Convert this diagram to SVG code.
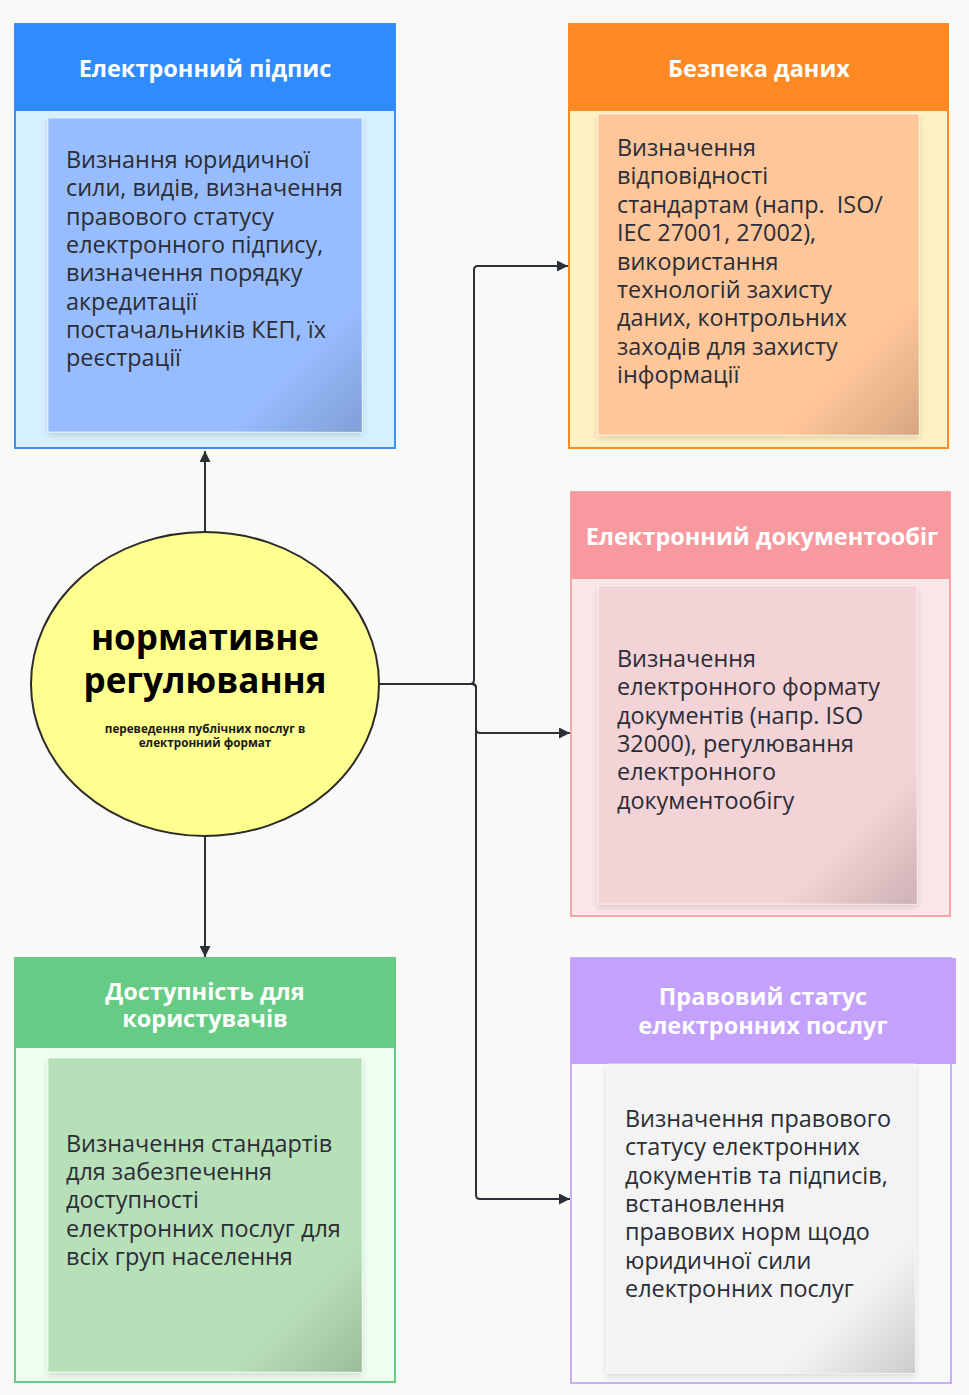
<svg xmlns="http://www.w3.org/2000/svg" width="969" height="1395" viewBox="0 0 969 1395">
<defs>
<style>
.title{font-family:"Open Sans","Noto Sans","Liberation Sans",sans-serif;font-weight:700;font-size:23.5px;fill:#ffffff;text-anchor:middle}
.body{font-family:"Open Sans","Noto Sans","Liberation Sans",sans-serif;font-size:23.4px;fill:#2b2d36}
.conn{fill:none;stroke:#2b2f36;stroke-width:2}
.sticky-shade{fill:url(#corner)}
.ctitle{font-family:"Open Sans","Noto Sans","Liberation Sans",sans-serif;font-weight:700;font-size:35px;fill:#000;text-anchor:middle}
.csub{font-family:"Open Sans","Noto Sans","Liberation Sans",sans-serif;font-weight:700;font-size:11.7px;fill:#1a1a1a;text-anchor:middle}
</style>
<linearGradient id="corner" x1="0" y1="0" x2="1" y2="1">
<stop offset="0" stop-color="#000" stop-opacity="0"/>
<stop offset="0.78" stop-color="#000" stop-opacity="0"/>
<stop offset="1" stop-color="#000" stop-opacity="0.16"/>
</linearGradient>
<filter id="shadow" x="-10%" y="-10%" width="120%" height="120%">
<feDropShadow dx="0" dy="3" stdDeviation="3" flood-color="#000" flood-opacity="0.14"/>
</filter>
<marker id="arrow" viewBox="0 0 10 10" refX="10" refY="5" markerWidth="11" markerHeight="11" markerUnits="userSpaceOnUse" orient="auto">
<path d="M0,0 L10,5 L0,10 Z" fill="#2b2f36"/>
</marker>
</defs>
<rect x="0" y="0" width="969" height="1395" fill="#f9f9f8"/>

<g id="connectors">
<path class="conn" d="M205,532 V451" marker-end="url(#arrow)"/>
<path class="conn" d="M205,836 V957" marker-end="url(#arrow)"/>
<path class="conn" d="M379,684 H470 Q474,684 474,680 V270 Q474,266 478,266 H568" marker-end="url(#arrow)"/>
<path class="conn" d="M379,684 H472 Q476,684 476,688 V729 Q476,733 480,733 H570" marker-end="url(#arrow)"/>
<path class="conn" d="M379,684 H472 Q476,684 476,688 V1195 Q476,1199 480,1199 H570" marker-end="url(#arrow)"/>
</g>

<g id="node-signature">
<rect x="15" y="24" width="380" height="424" fill="#d6f0ff" stroke="#3d8ef5" stroke-width="2"/>
<rect x="15" y="24" width="380" height="87" fill="#2f8cff"/>
<text class="title" x="205" y="77">Електронний підпис</text>
<g filter="url(#shadow)">
<rect x="48" y="118" width="314" height="314" fill="#98bdff" stroke="#ffffff" stroke-opacity="0.6"/>
<rect class="sticky-shade" x="48" y="118" width="314" height="314"/>
</g>
<text class="body" x="66" y="168"><tspan x="66">Визнання юридичної</tspan><tspan x="66" dy="28.3">сили, видів, визначення</tspan><tspan x="66" dy="28.3">правового статусу</tspan><tspan x="66" dy="28.3">електронного підпису,</tspan><tspan x="66" dy="28.3">визначення порядку</tspan><tspan x="66" dy="28.3">акредитації</tspan><tspan x="66" dy="28.3">постачальників КЕП, їх</tspan><tspan x="66" dy="28.3">реєстрації</tspan></text>
</g>

<g id="node-security">
<rect x="569" y="24" width="379" height="424" fill="#fff1c4" stroke="#ff8a24" stroke-width="2"/>
<rect x="569" y="24" width="379" height="87" fill="#ff8a24"/>
<text class="title" x="759" y="77">Безпека даних</text>
<g filter="url(#shadow)">
<rect x="598" y="114" width="321" height="321" fill="#ffc699" stroke="#ffffff" stroke-opacity="0.6"/>
<rect class="sticky-shade" x="598" y="114" width="321" height="321"/>
</g>
<text class="body" x="617" y="156"><tspan x="617">Визначення</tspan><tspan x="617" dy="28.4">відповідності</tspan><tspan x="617" dy="28.4">стандартам (напр.&#160; ISO/</tspan><tspan x="617" dy="28.4">IEC 27001, 27002),</tspan><tspan x="617" dy="28.4">використання</tspan><tspan x="617" dy="28.4">технологій захисту</tspan><tspan x="617" dy="28.4">даних, контрольних</tspan><tspan x="617" dy="28.4">заходів для захисту</tspan><tspan x="617" dy="28.4">інформації</tspan></text>
</g>

<g id="node-center">
<ellipse cx="205" cy="684" rx="174" ry="152" fill="#ffff8f" stroke="#2b2b2b" stroke-width="2"/>
<text class="ctitle" x="205" y="650">нормативне</text>
<text class="ctitle" x="205" y="693">регулювання</text>
<text class="csub" x="205" y="733">переведення публічних послуг в</text>
<text class="csub" x="205" y="747">електронний формат</text>
</g>

<g id="node-documents">
<rect x="571" y="492" width="379" height="424" fill="#fbe6e8" stroke="#f8a5a8" stroke-width="2"/>
<rect x="571" y="492" width="379" height="87" fill="#f8999f"/>
<text class="title" x="762" y="545">Електронний документообіг</text>
<g filter="url(#shadow)">
<rect x="598" y="586" width="319" height="318" fill="#f4d3d6" stroke="#ffffff" stroke-opacity="0.6"/>
<rect class="sticky-shade" x="598" y="586" width="319" height="318"/>
</g>
<text class="body" x="617" y="667"><tspan x="617">Визначення</tspan><tspan x="617" dy="28.3">електронного формату</tspan><tspan x="617" dy="28.3">документів (напр. ISO</tspan><tspan x="617" dy="28.3">32000), регулювання</tspan><tspan x="617" dy="28.3">електронного</tspan><tspan x="617" dy="28.3">документообігу</tspan></text>
</g>

<g id="node-accessibility">
<rect x="15" y="958" width="380" height="424" fill="#edfff0" stroke="#66cc85" stroke-width="2"/>
<rect x="15" y="958" width="380" height="90" fill="#66cc85"/>
<text class="title" x="205" y="1000">Доступність для</text>
<text class="title" x="205" y="1027">користувачів</text>
<g filter="url(#shadow)">
<rect x="48" y="1058" width="314" height="314" fill="#b8e0b8" stroke="#ffffff" stroke-opacity="0.6"/>
<rect class="sticky-shade" x="48" y="1058" width="314" height="314"/>
</g>
<text class="body" x="66" y="1152"><tspan x="66">Визначення стандартів</tspan><tspan x="66" dy="28.2">для забезпечення</tspan><tspan x="66" dy="28.2">доступності</tspan><tspan x="66" dy="28.2">електронних послуг для</tspan><tspan x="66" dy="28.2">всіх груп населення</tspan></text>
</g>

<g id="node-legal">
<rect x="571" y="958" width="380" height="425" fill="#f8f9fb" stroke="#c9aefc" stroke-width="2"/>
<rect x="571" y="958" width="385" height="106" fill="#c3a1fc"/>
<text class="title" x="763" y="1005">Правовий статус</text>
<text class="title" x="763" y="1034">електронних послуг</text>
<g filter="url(#shadow)">
<rect x="607" y="1064" width="308" height="309" fill="#f3f3f3" stroke="#ffffff" stroke-opacity="0.6"/>
<rect class="sticky-shade" x="607" y="1064" width="308" height="309"/>
</g>
<text class="body" x="625" y="1127"><tspan x="625">Визначення правового</tspan><tspan x="625" dy="28.3">статусу електронних</tspan><tspan x="625" dy="28.3">документів та підписів,</tspan><tspan x="625" dy="28.3">встановлення</tspan><tspan x="625" dy="28.3">правових норм щодо</tspan><tspan x="625" dy="28.3">юридичної сили</tspan><tspan x="625" dy="28.3">електронних послуг</tspan></text>
</g>
</svg>
